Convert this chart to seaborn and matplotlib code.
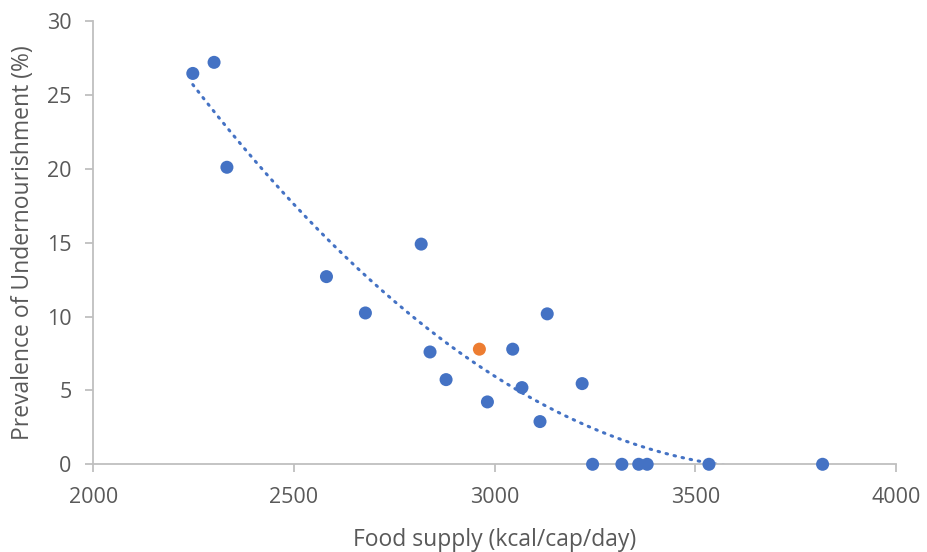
import numpy as np
import pandas as pd
import seaborn as sns
import matplotlib.pyplot as plt

# blue series
food_supply = [2248, 2301, 2333, 2581, 2678, 2817, 2839, 2879, 2982, 3045,
               3068, 3113, 3131, 3218, 3244, 3317, 3359, 3380, 3534, 3817]
undernourishment = [26.45, 27.2, 20.1, 12.7, 10.24, 14.9, 7.6, 5.73, 4.22, 7.79,
                    5.19, 2.89, 10.18, 5.46, 0, 0, 0, 0, 0, 0]
# highlighted point
hl_supply = [2962]
hl_under = [7.79]

blue = '#4472C4'
orange = '#ED7D31'
grey_txt = '#595959'
grey_ax = '#BFBFBF'

sns.set_style('white')
plt.rcParams['font.family'] = ['Open Sans', 'DejaVu Sans']

df = pd.DataFrame({'supply': food_supply, 'pou': undernourishment})
df_hl = pd.DataFrame({'supply': hl_supply, 'pou': hl_under})

fig = plt.figure(figsize=(9.27, 5.52), dpi=100)
ax = fig.add_axes([0.1006, 0.1589, 0.866, 0.8031])

# polynomial (order 2) trendline like the spreadsheet one
coef = np.polyfit(df['supply'], df['pou'], 2)
xs = np.linspace(df['supply'].min(), df['supply'].max(), 300)
ys = np.polyval(coef, xs)
ax.plot(xs, ys, color=blue, lw=2.2, linestyle=(0, (0.5, 2.2)),
        dash_capstyle='round', zorder=2)

sns.scatterplot(data=df, x='supply', y='pou', ax=ax, color=blue, s=88,
                edgecolor='none', zorder=3, clip_on=False)
sns.scatterplot(data=df_hl, x='supply', y='pou', ax=ax, color=orange, s=88,
                edgecolor='none', zorder=3, clip_on=False)

ax.set_xlim(2000, 4000)
ax.set_ylim(0, 30)
ax.set_xticks(range(2000, 4001, 500))
ax.set_yticks(range(0, 31, 5))

for s in ['top', 'right']:
    ax.spines[s].set_visible(False)
for s in ['left', 'bottom']:
    ax.spines[s].set_color(grey_ax)
    ax.spines[s].set_linewidth(1.3)

ax.tick_params(axis='both', direction='out', length=6, width=1.3,
               color=grey_ax, labelcolor=grey_txt, labelsize=15.5,
               left=True, bottom=True)
ax.tick_params(axis='x', pad=10)
ax.tick_params(axis='y', pad=9.5)
ax.set_xlabel('Food supply (kcal/cap/day)', fontsize=16.5, color=grey_txt, labelpad=15)
ax.set_ylabel('Prevalence of Undernourishment (%)', fontsize=16.5, color=grey_txt, labelpad=8.5)

plt.savefig('out.png', dpi=100)
